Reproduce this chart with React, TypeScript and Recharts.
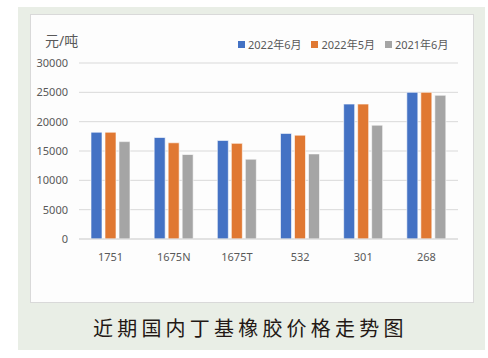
import { Bar, BarChart, CartesianGrid, XAxis, YAxis } from "recharts";

const grades = ["1751", "1675N", "1675T", "532", "301", "268"];
const jun2022 = [18200, 17300, 16800, 18000, 23000, 25000];
const may2022 = [18200, 16400, 16300, 17700, 23000, 25000];
const jun2021 = [16600, 14400, 13600, 14500, 19400, 24500];
const yTicks = [0, 5000, 10000, 15000, 20000, 25000, 30000];

const SERIES = [
  { key: "jun2022", name: "2022年6月", color: "#4472C4" },
  { key: "may2022", name: "2022年5月", color: "#E07832" },
  { key: "jun2021", name: "2021年6月", color: "#A5A5A5" },
];

const data = grades.map((g, i) => ({
  grade: g,
  jun2022: jun2022[i],
  may2022: may2022[i],
  jun2021: jun2021[i],
}));

const FONT = '"Noto Sans", "Noto Sans CJK SC", sans-serif';

export default function App() {
  return (
    <div style={{ position: "fixed", left: 0, top: 0, width: 488, height: 358, background: "#fff" }}>
      <div style={{ position: "absolute", left: 18, top: 7, width: 467, height: 343, background: "#E9EEE6" }} />
      <div
        style={{
          position: "absolute",
          left: 30,
          top: 14,
          width: 442,
          height: 287,
          background: "#FDFDFD",
          border: "1px solid #D9D9D9",
        }}
      >
        <div
          style={{
            position: "absolute",
            left: 14,
            top: 15,
            fontFamily: FONT,
            fontSize: 14,
            color: "#595959",
          }}
        >
          元/吨
        </div>
        {/* legend */}
        <div
          style={{
            position: "absolute",
            left: 207,
            top: 21,
            display: "flex",
            gap: 10,
            fontFamily: FONT,
            fontSize: 11,
            color: "#595959",
            whiteSpace: "nowrap",
          }}
        >
          {SERIES.map((s) => (
            <div key={s.key} style={{ display: "flex", alignItems: "center" }}>
              <span style={{ width: 7, height: 7, background: s.color, marginRight: 3, display: "inline-block" }} />
              <span>{s.name}</span>
            </div>
          ))}
        </div>
        <BarChart
          width={442}
          height={287}
          data={data}
          margin={{ top: 48, right: 15, left: 0, bottom: 33 }}
          barGap={3}
          barCategoryGap="19%"
        >
          <CartesianGrid vertical={false} stroke="#D9D9D9" />
          <XAxis
            dataKey="grade"
            axisLine={{ stroke: "#D9D9D9" }}
            tickLine={false}
            tickMargin={8}
            height={30}
            tick={{ fill: "#595959", fontSize: 11, fontFamily: FONT }}
          />
          <YAxis
            width={48}
            domain={[0, 30000]}
            ticks={yTicks}
            axisLine={false}
            tickLine={false}
            tickMargin={5}
            tick={{ fill: "#595959", fontSize: 11, fontFamily: FONT }}
          />
          {SERIES.map((s) => (
            <Bar
              key={s.key}
              dataKey={s.key}
              name={s.name}
              fill={s.color}
              stroke="#ffffff"
              strokeWidth={0.6}
              isAnimationActive={false}
            />
          ))}
        </BarChart>
      </div>
      <div
        style={{
          position: "absolute",
          left: 93,
          top: 313,
          fontFamily: '"Noto Sans CJK SC", sans-serif',
          fontSize: 20,
          letterSpacing: 4.2,
          color: "#231815",
          whiteSpace: "nowrap",
        }}
      >
        近期国内丁基橡胶价格走势图
      </div>
    </div>
  );
}
